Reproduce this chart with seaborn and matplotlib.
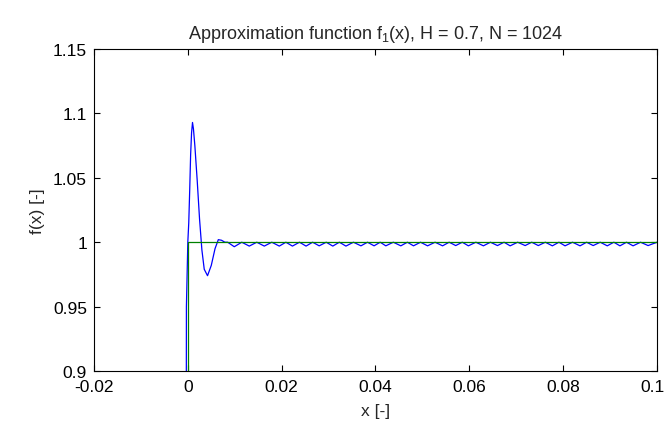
import numpy as np
import pandas as pd
import matplotlib
matplotlib.use("Agg")
import matplotlib.pyplot as plt
from matplotlib.transforms import ScaledTranslation
import seaborn as sns

# step function f(x)
step_x = [-0.02, 0.0, 0.0, 0.1]
step_y = [0.0, 0.0, 1.0, 1.0]

# approximation: jump + Gibbs overshoot
head_x = [-0.02, -0.0006, -0.0003, 0.0, 0.0002, 0.0004, 0.0006, 0.0008, 0.001, 0.0012,
          0.0015, 0.002, 0.0025, 0.003, 0.0035, 0.0042, 0.005, 0.0058, 0.0065, 0.0072, 0.0079]
head_y = [0.0, 0.0, 0.95, 1.0, 1.015, 1.04, 1.068, 1.085, 1.093, 1.088,
          1.075, 1.048, 1.018, 0.994, 0.979, 0.974, 0.982, 0.995, 1.002, 1.0015, 1.0]

# small ripples after the overshoot (dip / crest positions)
dip_x = [0.0099, 0.0131, 0.0163, 0.0195, 0.0223, 0.0252, 0.0280, 0.0309, 0.0337, 0.0369,
         0.0397, 0.0422, 0.0454, 0.0481, 0.0511, 0.0543, 0.0571, 0.0598, 0.0630, 0.0660,
         0.0687, 0.0719, 0.0747, 0.0777, 0.0804, 0.0836, 0.0864, 0.0894, 0.0921, 0.0949, 0.0981]
dip_y = [0.9965, 0.997, 0.997, 0.997, 0.997, 0.997, 0.9972, 0.997, 0.997, 0.9972,
         0.9972, 0.9972, 0.9972, 0.9972, 0.9972, 0.9972, 0.9974, 0.9972, 0.9972, 0.9974,
         0.9972, 0.9974, 0.9974, 0.9972, 0.9972, 0.9972, 0.9974, 0.9972, 0.9972, 0.9972, 0.9974]
crest_x = [0.0085, 0.0115, 0.0147, 0.0179, 0.0209, 0.0238, 0.0266, 0.0295, 0.0323, 0.0353,
           0.0383, 0.0410, 0.0438, 0.0468, 0.0496, 0.0527, 0.0557, 0.0585, 0.0614, 0.0645,
           0.0674, 0.0703, 0.0733, 0.0762, 0.0791, 0.0820, 0.0850, 0.0879, 0.0908, 0.0935,
           0.0965, 0.1]
crest_y = [1.0] * len(crest_x)

xticks = [-0.02, 0, 0.02, 0.04, 0.06, 0.08, 0.1]
xtick_labels = ["-0.02", "0", "0.02", "0.04", "0.06", "0.08", "0.1"]
yticks = [0.9, 0.95, 1.0, 1.05, 1.1, 1.15]
ytick_labels = ["0.9", "0.95", "1", "1.05", "1.1", "1.15"]

rip = sorted(zip(dip_x + crest_x, dip_y + crest_y))
approx = pd.DataFrame({"x": head_x + [p[0] for p in rip],
                       "y": head_y + [p[1] for p in rip]})
step = pd.DataFrame({"x": step_x, "y": step_y})

fs = 12.5
sns.set_style("ticks")
plt.rcParams["font.family"] = ["Liberation Sans", "DejaVu Sans"]
plt.rcParams["mathtext.fontset"] = "custom"
plt.rcParams["mathtext.rm"] = "Liberation Sans"
plt.rcParams["mathtext.it"] = "Liberation Sans"

fig = plt.figure(figsize=(6.67, 4.39), dpi=100)
ax = fig.add_axes([0.1409, 0.1526, 0.8441, 0.7334])

sns.lineplot(data=approx, x="x", y="y", estimator=None, sort=False,
             color="#0000ff", linewidth=0.9, ax=ax)
sns.lineplot(data=step, x="x", y="y", estimator=None, sort=False,
             color="#008000", linewidth=0.9, ax=ax)

ax.set_xlim(-0.02, 0.1)
ax.set_ylim(0.9, 1.15)
ax.set_xticks(xticks)
ax.set_xticklabels(xtick_labels)
ax.set_yticks(yticks)
ax.set_yticklabels(ytick_labels)
ax.tick_params(direction="in", top=True, right=True, length=4, width=0.8,
               labelsize=fs, colors="black")
ax.tick_params(axis="x", pad=6)
ax.tick_params(axis="y", pad=5)
for s in ax.spines.values():
    s.set_visible(True)
    s.set_linewidth(0.8)
    s.set_color("black")

# keep the last x label inside the figure
last = ax.get_xticklabels()[-1]
last.set_transform(last.get_transform() + ScaledTranslation(-3 / 72, 0, fig.dpi_scale_trans))

ax.set_xlabel("x [-]", fontsize=fs, labelpad=6)
ax.set_ylabel("f(x) [-]", fontsize=fs, labelpad=6)
ax.set_title("Approximation function f$_1$(x), H = 0.7, N = 1024", fontsize=fs + 0.5, pad=8)

fig.savefig("out.png", dpi=100)
